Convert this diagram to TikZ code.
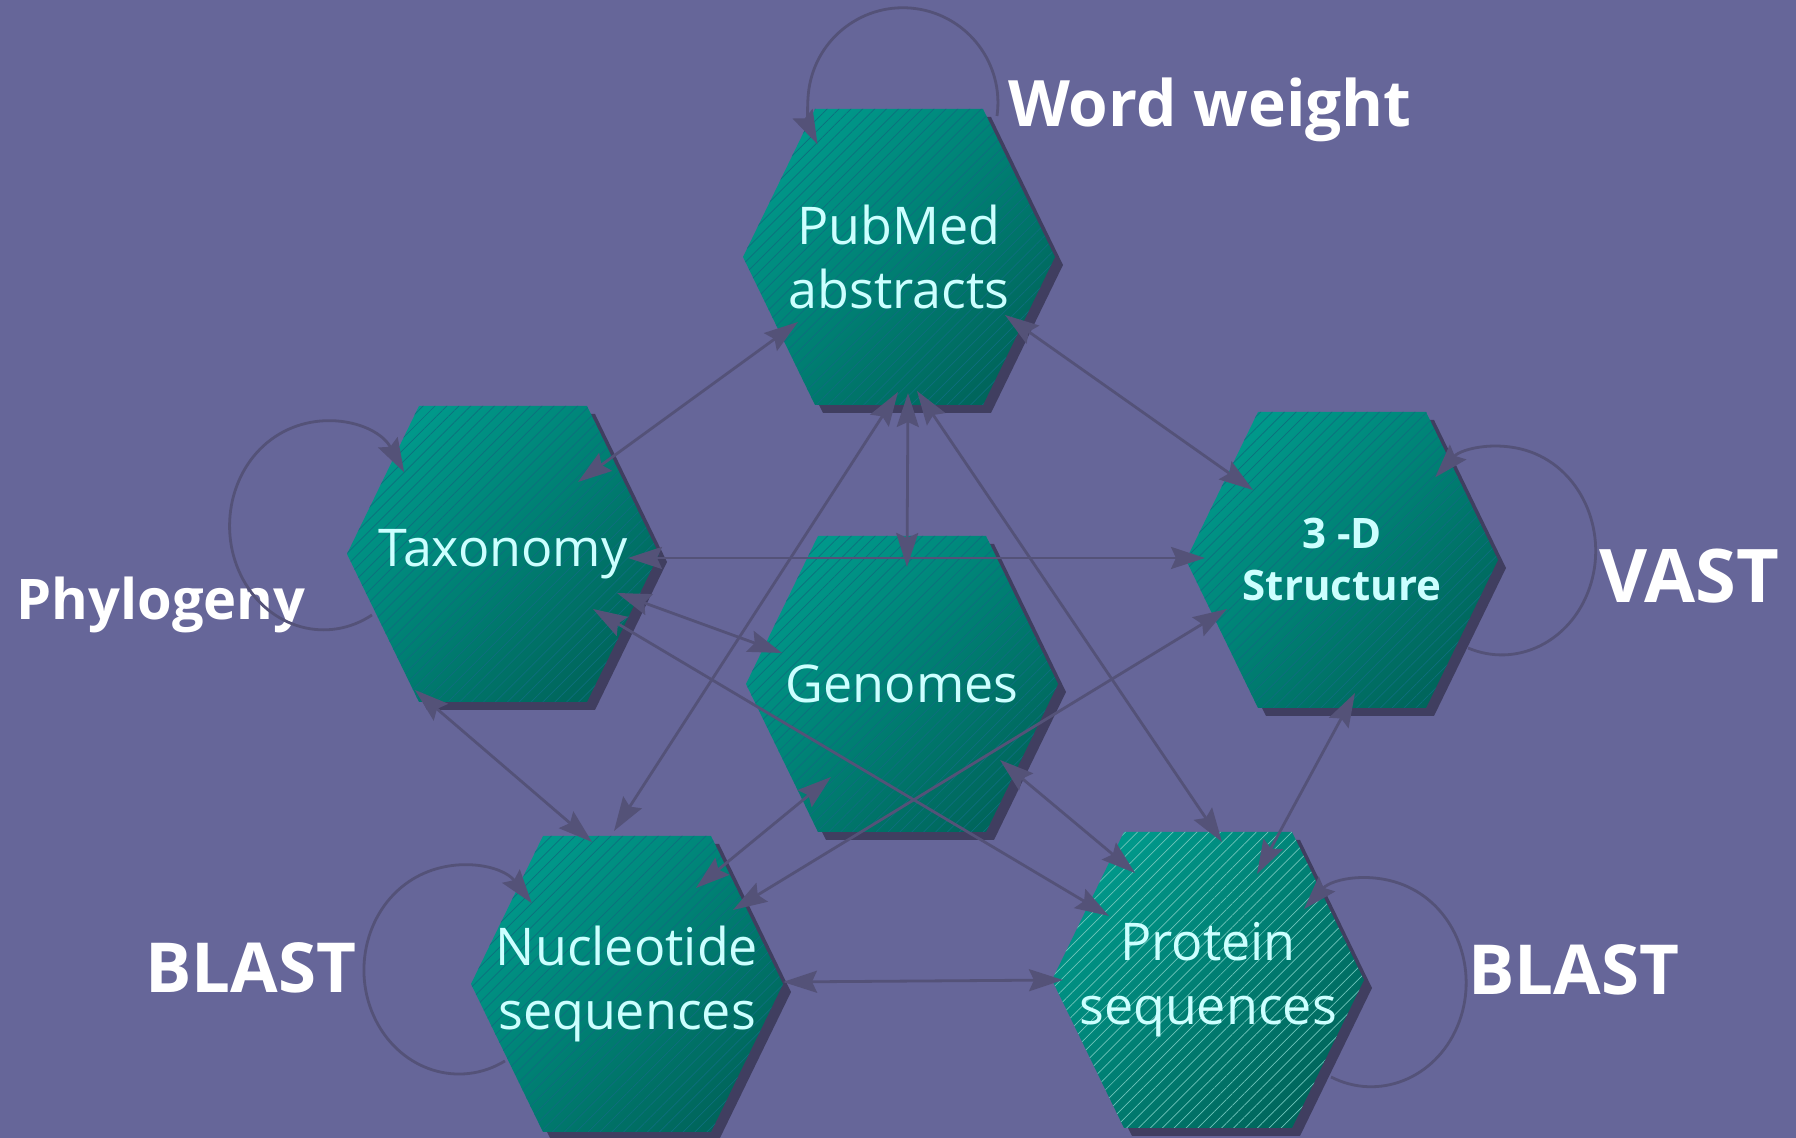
\documentclass[tikz,border=0pt]{standalone}
\usepackage{fontspec}
\setmainfont{Open Sans}
\usetikzlibrary{arrows.meta,patterns.meta,backgrounds}

\definecolor{bgblue}{RGB}{102,102,153}
\definecolor{linkgray}{RGB}{84,82,120}
\definecolor{hexshadow}{RGB}{64,62,96}
\definecolor{hextop}{RGB}{0,152,138}
\definecolor{hexbottom}{RGB}{0,102,92}
\definecolor{hatchdark}{RGB}{14,110,126}
\definecolor{hatchlight}{RGB}{110,196,186}
\definecolor{hexink}{RGB}{204,255,255}

% hexagon outline round node #1, moved by (#2,#3)
\newcommand\hexpath[3]{([shift={(#2-84,#3+148)}]#1.center) -- ([shift={(#2+84,#3+148)}]#1.center) -- ([shift={(#2+156,#3)}]#1.center) -- ([shift={(#2+84,#3-148)}]#1.center) -- ([shift={(#2-84,#3-148)}]#1.center) -- ([shift={(#2-156,#3)}]#1.center) -- cycle}

\begin{document}
\begin{tikzpicture}[x=0.5pt,y=0.5pt,
  >={Stealth[length=17pt,width=11pt,inset=2.5pt]},
  link/.style={<->,draw=linkgray,line width=1.4pt},
  selflink/.style={->,draw=linkgray,line width=1.4pt},
  hexfill/.style={top color=hextop,bottom color=hexbottom,shading angle=45},
  hextext/.style={text=hexink,font=\fontsize{26}{32}\selectfont,align=center,inner sep=0pt},
  tag/.style={text=white,font=\bfseries\fontsize{#1}{38}\selectfont,anchor=base,inner sep=0pt},
  tag/.default=32]

\useasboundingbox (0,0) rectangle (1796,1138);

% databases
\node[hextext] (pub) at (899,881) {PubMed\\abstracts};
\node[hextext] (tax) at (503,584) {Taxonomy};
\node[hextext,font=\bfseries\fontsize{21}{26}\selectfont] (str) at (1342,578) {3 -D\\Structure};
\node[hextext] (gen) at (902,454) {Genomes};
\node[hextext] (nuc) at (627,154) {Nucleotide\\sequences};
\node[hextext] (pro) at (1208,158) {Protein\\sequences};

% tools
\node[tag] (ww) at (1210,1011) {Word weight};
\node[tag=28] (phy) at (161,518) {Phylogeny};
\node[tag=37] (vast) at (1689,535) {VAST};
\node[tag=34.5] (blastn) at (251,145) {BLAST};
\node[tag=34.5] (blastp) at (1574,143) {BLAST};

\begin{scope}[on background layer]
  \fill[bgblue] (0,0) rectangle (1796,1138);
  \foreach \n/\hc in {pub/hatchdark,tax/hatchdark,str/hatchdark,gen/hatchdark,nuc/hatchdark,pro/hatchlight}{
    \fill[hexshadow] \hexpath{\n}{8}{-8};
    \shade[hexfill] \hexpath{\n}{0}{0};
    \fill[pattern={Lines[angle=45,distance=4.2pt,line width=0.35pt]},pattern color=\hc] \hexpath{\n}{0}{0};
  }
\end{scope}

% self loops
\draw[selflink] ([shift={(98,141)}]pub.center) arc[start angle=-8,end angle=206,radius=47.5pt];
\draw[selflink] ([shift={(-131,-61)}]tax.center) arc[start angle=-59,end angle=-329,x radius=47pt,y radius=52pt];
\draw[selflink] ([shift={(126,-88)}]str.center) arc[start angle=-111,end angle=135,x radius=47pt,y radius=52pt];
\draw[selflink] ([shift={(-122,-77)}]nuc.center) arc[start angle=-61,end angle=-320,x radius=47.5pt,y radius=52pt];
\draw[selflink] ([shift={(123,-97)}]pro.center) arc[start angle=-115,end angle=135,x radius=47.5pt,y radius=52pt];

% links between databases
\draw[link] ([shift={(-101,-65)}]pub.center) -- ([shift={(75,72)}]tax.center);
\draw[link] ([shift={(106,-58)}]pub.center) -- ([shift={(-89,70)}]str.center);
\draw[link] ([shift={(9,-136)}]pub.center) -- ([shift={(5,117)}]gen.center);
\draw[link] ([shift={(-1,-135)}]pub.center) -- ([shift={(-13,153)}]nuc.center);
\draw[link] ([shift={(18,-134)}]pub.center) -- ([shift={(14,138)}]pro.center);
\draw[link] ([shift={(125,-4)}]tax.center) -- ([shift={(-137,2)}]str.center);
\draw[link] ([shift={(114,-39)}]tax.center) -- ([shift={(-120,31)}]gen.center);
\draw[link] ([shift={(-88,-136)}]tax.center) -- ([shift={(-35,142)}]nuc.center);
\draw[link] ([shift={(90,-55)}]tax.center) -- ([shift={(-99,64)}]pro.center);
\draw[link] ([shift={(-115,-49)}]str.center) -- ([shift={(106,74)}]nuc.center);
\draw[link] ([shift={(13,-133)}]str.center) -- ([shift={(49,106)}]pro.center);
\draw[link] ([shift={(-71,-93)}]gen.center) -- ([shift={(69,96)}]nuc.center);
\draw[link] ([shift={(98,-76)}]gen.center) -- ([shift={(-73,107)}]pro.center);
\draw[link] ([shift={(156,2)}]nuc.center) -- ([shift={(-145,0)}]pro.center);

\end{tikzpicture}
\end{document}
